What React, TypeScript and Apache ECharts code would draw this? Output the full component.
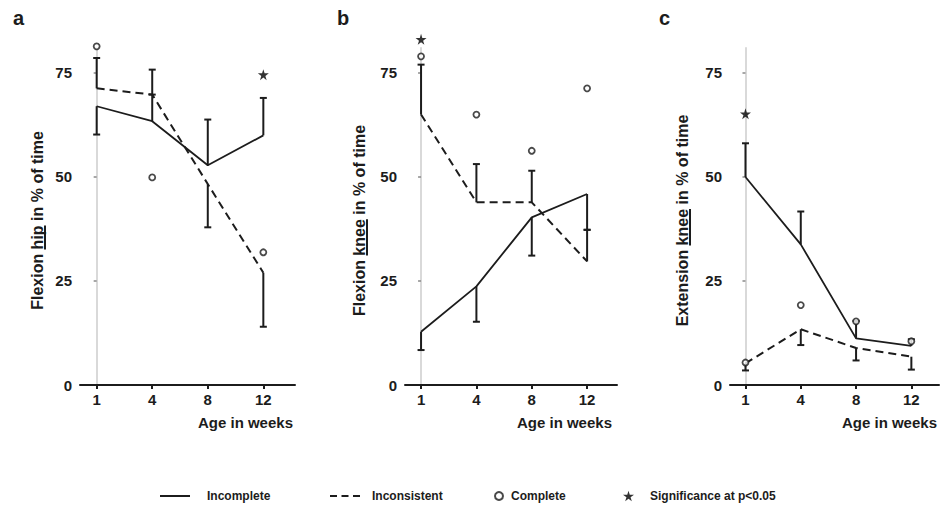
import React, { useEffect, useRef } from 'react';
import * as echarts from 'echarts';

// ---------- data ----------
const weeks = ['1', '4', '8', '12'];
const yTickValues = [0, 25, 50, 75];

// Panel a – Flexion hip
const hipIncomplete = [67, 63.4, 52.8, 60];
const hipIncompleteUp = [null, 69.8, 63.8, 69];
const hipIncompleteDown = [60.2, null, null, null];
const hipInconsistent = [71.3, 69.8, 48.3, 27];
const hipInconsistentUp = [78.6, 75.8, null, null];
const hipInconsistentDown = [null, null, 37.9, 14];
const hipComplete = [81.4, 49.9, null, 31.9];
const hipSignificance = [null, null, null, 74.6];

// Panel b – Flexion knee
const flexKneeIncomplete = [12.8, 23.7, 40.3, 45.9];
const flexKneeIncompleteUp = [null, null, null, null];
const flexKneeIncompleteDown = [8.4, 15.2, 31.1, 37.3];
const flexKneeInconsistent = [65.0, 43.9, 43.9, 29.7];
const flexKneeInconsistentUp = [77.0, 53.1, 51.5, 37.3];
const flexKneeInconsistentDown = [null, null, null, null];
const flexKneeComplete = [79.0, 65.0, 56.3, 71.3];
const flexKneeSignificance = [83.1, null, null, null];

// Panel c – Extension knee
const extKneeIncomplete = [50, 33.8, 11.2, 9.4];
const extKneeIncompleteUp = [58.1, 41.7, 15.4, 11.0];
const extKneeIncompleteDown = [null, null, null, null];
const extKneeInconsistent = [5.2, 13.4, 8.9, 6.8];
const extKneeInconsistentUp = [null, null, null, null];
const extKneeInconsistentDown = [3.5, 9.6, 5.9, 3.7];
const extKneeComplete = [5.4, 19.2, 15.3, 10.5];
const extKneeSignificance = [65.2, null, null, null];

const INK = '#1c1c1c';
const FONT = '"Liberation Sans", Arial, Helvetica, sans-serif';
const STAR = 'path://M50,0 L61,35 L98,35 L68,57 L79,91 L50,70 L21,91 L32,57 L2,35 L39,35 Z';
const SOLID_ICON = 'path://M0,0 H30 V2 H0 Z';
const DASH_ICON = 'path://M0,0 H7 V2 H0 Z M11.5,0 H18.5 V2 H11.5 Z M23,0 H30 V2 H23 Z';

type Num = number | null;

const pts = (arr: Num[]) =>
  arr.map((v, i) => (v == null ? null : [i, v])).filter((p) => p !== null) as number[][];

const errs = (mean: Num[], up: Num[], down: Num[]) => {
  const out: number[][] = [];
  mean.forEach((m, i) => {
    if (m == null) return;
    if (up[i] != null) out.push([i, m, up[i] as number]);
    if (down[i] != null) out.push([i, m, down[i] as number]);
  });
  return out;
};

const panels = [
  {
    letter: 'a',
    title: 'Flexion hip in % of time',
    pre: 'Flexion ',
    word: 'hip',
    grid: { left: 80, top: 48, width: 215, height: 337 },
    xMin: -0.3,
    xMax: 3.57,
    letterX: 8,
    titleX: 37.5,
    inc: hipIncomplete, incUp: hipIncompleteUp, incDown: hipIncompleteDown,
    incon: hipInconsistent, inconUp: hipInconsistentUp, inconDown: hipInconsistentDown,
    comp: hipComplete, sig: hipSignificance,
  },
  {
    letter: 'b',
    title: 'Flexion knee in % of time',
    pre: 'Flexion ',
    word: 'knee',
    grid: { left: 405, top: 48, width: 212, height: 337 },
    xMin: -0.29,
    xMax: 3.54,
    letterX: 332,
    titleX: 359.5,
    inc: flexKneeIncomplete, incUp: flexKneeIncompleteUp, incDown: flexKneeIncompleteDown,
    incon: flexKneeInconsistent, inconUp: flexKneeInconsistentUp, inconDown: flexKneeInconsistentDown,
    comp: flexKneeComplete, sig: flexKneeSignificance,
  },
  {
    letter: 'c',
    title: 'Extension knee in % of time',
    pre: 'Extension ',
    word: 'knee',
    grid: { left: 730, top: 48, width: 210, height: 337 },
    xMin: -0.28,
    xMax: 3.5,
    letterX: 654,
    titleX: 682.5,
    inc: extKneeIncomplete, incUp: extKneeIncompleteUp, incDown: extKneeIncompleteDown,
    incon: extKneeInconsistent, inconUp: extKneeInconsistentUp, inconDown: extKneeInconsistentDown,
    comp: extKneeComplete, sig: extKneeSignificance,
  },
];

const errRender = (params: any, api: any) => {
  const i = api.value(0);
  const m = api.value(1);
  const e = api.value(2);
  const p0 = api.coord([i, m]);
  const p1 = api.coord([i, e]);
  return {
    type: 'group',
    children: [
      { type: 'line', shape: { x1: p0[0], y1: p0[1], x2: p1[0], y2: p1[1] }, style: { stroke: INK, lineWidth: 2 } },
      { type: 'line', shape: { x1: p1[0] - 3.5, y1: p1[1], x2: p1[0] + 3.5, y2: p1[1] }, style: { stroke: INK, lineWidth: 2 } },
    ],
  };
};

export default function App() {
  const ref = useRef<HTMLDivElement>(null);

  useEffect(() => {
    if (!ref.current) return;
    const chart = echarts.init(ref.current, undefined, { renderer: 'svg' });

    const titleFont = `bold 16px ${FONT}`;
    const canvas = document.createElement('canvas');
    const ctx = canvas.getContext('2d')!;
    ctx.font = titleFont;

    const grids: any[] = [];
    const xAxes: any[] = [];
    const yAxes: any[] = [];
    const series: any[] = [];
    const titles: any[] = [];
    const graphics: any[] = [];

    panels.forEach((p, k) => {
      grids.push({ ...p.grid, containLabel: false });
      xAxes.push({
        type: 'value',
        gridIndex: k,
        min: p.xMin,
        max: p.xMax,
        splitLine: { show: false },
        axisLine: { show: true, lineStyle: { color: INK, width: 2 } },
        axisTick: { show: true, customValues: [0, 1, 2, 3], length: 4, lineStyle: { color: INK, width: 2 } },
        axisLabel: {
          customValues: [0, 1, 2, 3],
          formatter: (v: number) => weeks[Math.round(v)] ?? '',
          fontSize: 15,
          fontWeight: 'bold',
          fontFamily: FONT,
          color: INK,
          margin: 7,
        },
        name: 'Age in weeks',
        nameLocation: 'end',
        nameGap: k === 1 ? -5 : -2,
        nameTextStyle: {
          fontSize: 15,
          fontWeight: 'bold',
          fontFamily: FONT,
          color: INK,
          align: 'right',
          verticalAlign: 'top',
          padding: [30, 0, 0, 0],
        },
      });
      yAxes.push({
        type: 'value',
        gridIndex: k,
        min: 0,
        max: 81,
        splitLine: { show: false },
        axisLine: { show: true, lineStyle: { color: '#d9d9d9', width: 2 } },
        axisTick: { show: true, customValues: [25, 50, 75], length: 3, lineStyle: { color: '#8a8a8a', width: 1.5 } },
        axisLabel: {
          customValues: yTickValues,
          fontSize: 15,
          fontWeight: 'bold',
          fontFamily: FONT,
          color: INK,
          margin: 8,
        },
      });

      titles.push({
        text: p.letter,
        left: p.letterX,
        top: 3,
        textStyle: { fontSize: 20, fontWeight: 'bold', fontFamily: FONT, color: INK },
      });

      // rotated y title + underline
      const cy = p.grid.top + p.grid.height / 2 + 4;
      const totalW = ctx.measureText(p.title).width;
      const preW = ctx.measureText(p.pre).width;
      const wordW = ctx.measureText(p.word).width;
      const startY = cy + totalW / 2;
      graphics.push({
        type: 'text',
        x: p.titleX,
        y: cy,
        rotation: Math.PI / 2,
        style: { text: p.title, font: titleFont, fill: INK, align: 'center', verticalAlign: 'middle' },
      });
      graphics.push({
        type: 'line',
        shape: { x1: p.titleX + 7.5, y1: startY - preW, x2: p.titleX + 7.5, y2: startY - preW - wordW },
        style: { stroke: INK, lineWidth: 2 },
      });

      series.push({
        name: 'Incomplete',
        type: 'line',
        xAxisIndex: k,
        yAxisIndex: k,
        data: pts(p.inc),
        symbol: 'none',
        lineStyle: { color: INK, width: 1.8, type: 'solid' },
        itemStyle: { color: INK },
        z: 3,
      });
      series.push({
        name: 'Inconsistent',
        type: 'line',
        xAxisIndex: k,
        yAxisIndex: k,
        data: pts(p.incon),
        symbol: 'none',
        lineStyle: { color: INK, width: 2, type: [8, 5] },
        itemStyle: { color: INK },
        z: 3,
      });
      series.push({
        name: 'Incomplete error',
        type: 'custom',
        xAxisIndex: k,
        yAxisIndex: k,
        data: errs(p.inc, p.incUp, p.incDown),
        encode: { x: 0, y: [1, 2] },
        renderItem: errRender,
        clip: false,
        z: 4,
      });
      series.push({
        name: 'Inconsistent error',
        type: 'custom',
        xAxisIndex: k,
        yAxisIndex: k,
        data: errs(p.incon, p.inconUp, p.inconDown),
        encode: { x: 0, y: [1, 2] },
        renderItem: errRender,
        clip: false,
        z: 4,
      });
      series.push({
        name: 'Complete',
        type: 'scatter',
        xAxisIndex: k,
        yAxisIndex: k,
        data: pts(p.comp),
        symbol: 'circle',
        symbolSize: 6,
        itemStyle: { color: '#ffffff', borderColor: INK, borderWidth: 1.8 },
        clip: false,
        z: 5,
      });
      series.push({
        name: 'Significance at p<0.05',
        type: 'scatter',
        xAxisIndex: k,
        yAxisIndex: k,
        data: pts(p.sig),
        symbol: STAR,
        symbolSize: 11,
        itemStyle: { color: '#000000' },
        clip: false,
        z: 5,
      });
    });

    const legendText = { fontSize: 12, fontWeight: 'bold', fontFamily: FONT, color: INK };
    const legends = [
      {
        left: 160,
        data: [{ name: 'Incomplete', icon: SOLID_ICON }],
        itemWidth: 30,
        itemHeight: 2,
        itemStyle: { color: INK, borderWidth: 0 },
        textStyle: { ...legendText, padding: [0, 0, 0, 12] },
      },
      {
        left: 330,
        data: [{ name: 'Inconsistent', icon: DASH_ICON }],
        itemWidth: 30,
        itemHeight: 2,
        itemStyle: { color: INK, borderWidth: 0 },
        textStyle: { ...legendText, padding: [0, 0, 0, 7] },
      },
      {
        left: 494,
        data: [{ name: 'Complete', icon: 'circle' }],
        itemWidth: 8,
        itemHeight: 8,
        itemStyle: { color: '#ffffff', borderColor: INK, borderWidth: 2 },
        textStyle: { ...legendText, padding: [0, 0, 0, 3] },
      },
      {
        left: 623,
        data: [{ name: 'Significance at p<0.05', icon: STAR }],
        itemWidth: 11,
        itemHeight: 11,
        itemStyle: { color: '#000000' },
        textStyle: { ...legendText, padding: [0, 0, 0, 11] },
      },
    ].map((l) => ({ top: 490, selectedMode: false, padding: 0, ...l }));

    chart.setOption({
      animation: false,
      backgroundColor: '#ffffff',
      title: titles,
      legend: legends,
      grid: grids,
      xAxis: xAxes,
      yAxis: yAxes,
      series,
      graphic: graphics,
    });

    return () => chart.dispose();
  }, []);

  return <div ref={ref} style={{ width: 940, height: 515, position: 'absolute', left: 0, top: 0 }} />;
}
